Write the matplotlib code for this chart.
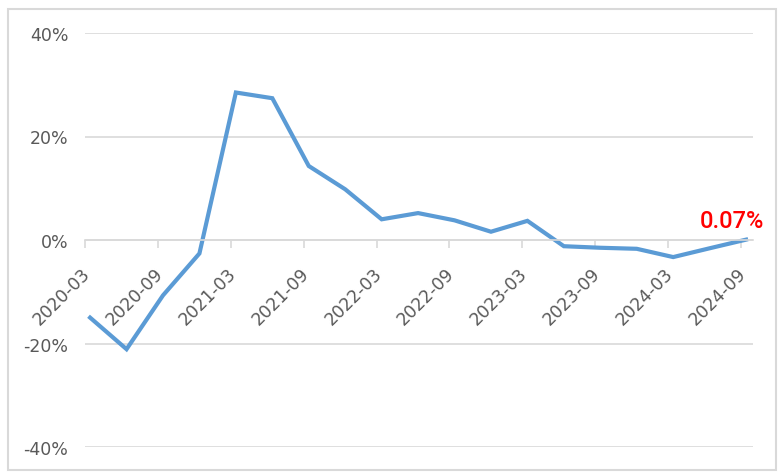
import numpy as np
import matplotlib.pyplot as plt
import matplotlib.transforms as mtransforms
from matplotlib.patches import Rectangle

# quarterly values (%)
quarters = ['2020-03', '2020-06', '2020-09', '2020-12',
            '2021-03', '2021-06', '2021-09', '2021-12',
            '2022-03', '2022-06', '2022-09', '2022-12',
            '2023-03', '2023-06', '2023-09', '2023-12',
            '2024-03', '2024-06', '2024-09']
values = [-15.0, -21.1, -10.7, -2.6,
          28.5, 27.4, 14.3, 9.8,
          4.0, 5.2, 3.8, 1.6,
          3.7, -1.2, -1.5, -1.7,
          -3.3, -1.6, 0.07]
yticks = [-40, -20, 0, 20, 40]
last_label = '0.07%'

grey = '#d9d9d9'
txt = '#595959'
blue = '#5b9bd5'

plt.rcParams['font.family'] = ['DejaVu Sans']

fig = plt.figure(figsize=(7.82, 4.77), dpi=100)
fig.patches.append(Rectangle((8 / 782, 6 / 477), 768 / 782, 461 / 477,
                             transform=fig.transFigure, fill=False,
                             edgecolor=grey, linewidth=1.5))
ax = fig.add_axes([85 / 782, 29 / 477, 668 / 782, 414 / 477])

x = np.arange(len(quarters))
ax.plot(x, values, color=blue, linewidth=3, solid_joinstyle='miter')

ax.set_ylim(-40, 40)
ax.set_xlim(-0.14, len(quarters) - 1 + 0.19)
ax.set_yticks(yticks)
ax.set_yticklabels([f'{v}%' for v in yticks])
ax.yaxis.grid(True, color=grey, linewidth=1.2)
ax.set_axisbelow(True)

for s in ['top', 'right', 'left']:
    ax.spines[s].set_visible(False)
ax.spines['bottom'].set_position(('data', 0))
ax.spines['bottom'].set_color(grey)
ax.spines['bottom'].set_linewidth(1.2)

ticks = x[::2] - 0.14
ax.set_xticks(ticks)
ax.set_xticklabels(quarters[::2], rotation=45, ha='right', va='top',
                   rotation_mode='anchor')
ax.tick_params(axis='x', length=6, color=grey, width=1.2, labelsize=12.5,
               labelcolor=txt, pad=11.5)
ax.tick_params(axis='y', length=0, labelsize=12.5, labelcolor=txt, pad=12)
shift = mtransforms.ScaledTranslation(-4 / 100, 0, fig.dpi_scale_trans)
for lab in ax.get_xticklabels():
    lab.set_transform(lab.get_transform() + shift)

ax.annotate(last_label, (x[-1], values[-1]), xytext=(-10.4, 9.1),
            textcoords='offset points', ha='center', va='baseline',
            color='red', fontsize=17, fontweight='medium',
            family=['Roboto', 'DejaVu Sans'])

fig.savefig('out.png', dpi=100)
